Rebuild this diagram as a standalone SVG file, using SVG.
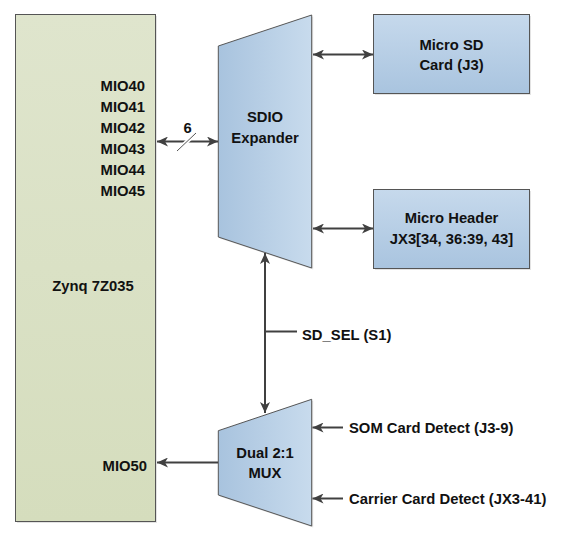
<svg xmlns="http://www.w3.org/2000/svg" width="563" height="543" viewBox="0 0 563 543">
<defs>
<linearGradient id="gZynq" x1="0" y1="0" x2="0" y2="1"><stop offset="0" stop-color="#dfe5cd"/><stop offset="1" stop-color="#d5ddbd"/></linearGradient>
<linearGradient id="gBox" x1="0" y1="0" x2="0" y2="1"><stop offset="0" stop-color="#c6d9ec"/><stop offset="1" stop-color="#a9c4df"/></linearGradient>
<linearGradient id="gTrap" x1="0" y1="0" x2="1" y2="0"><stop offset="0" stop-color="#a8c3de"/><stop offset="1" stop-color="#c8dbed"/></linearGradient>
<marker id="ah" markerUnits="userSpaceOnUse" markerWidth="12" markerHeight="10" refX="11" refY="5" orient="auto-start-reverse" viewBox="0 0 12 10"><path d="M0,0 L11,5 L0,10 L3,5 z" fill="#404040"/></marker>
</defs>
<style>
.t{font-family:"Liberation Sans",Arial,sans-serif;font-weight:bold;font-size:14.8px;fill:#111}
.m{text-anchor:middle}
.e{text-anchor:end}
.shape{stroke:#555;stroke-width:1}
.sh{fill:#e3e3e3}
.c{stroke:#404040;stroke-width:2;fill:none}
</style>
<rect width="563" height="543" fill="#fff"/>
<g id="zynq">
<rect class="sh" x="17" y="16" width="140" height="507"/>
<rect class="shape" x="15.5" y="14.5" width="140" height="507" fill="url(#gZynq)"/>
<text class="t e" x="145" y="91">MIO40</text>
<text class="t e" x="145" y="112">MIO41</text>
<text class="t e" x="145" y="133">MIO42</text>
<text class="t e" x="145" y="154">MIO43</text>
<text class="t e" x="145" y="175">MIO44</text>
<text class="t e" x="145" y="196">MIO45</text>
<text class="t m" x="93" y="291">Zynq 7Z035</text>
<text class="t e" x="147" y="471">MIO50</text>
</g>
<g id="sdio">
<polygon class="sh" points="219.8,47.5 313.2,16.5 313.2,269.5 219.8,238.5"/>
<polygon class="shape" points="218.3,46 311.7,15 311.7,268 218.3,237" fill="url(#gTrap)"/>
<text class="t m" x="265" y="122">SDIO</text>
<text class="t m" x="265" y="143">Expander</text>
</g>
<g id="microsd">
<rect class="sh" x="375" y="16" width="156" height="79"/>
<rect class="shape" x="373.5" y="14.5" width="156" height="79" fill="url(#gBox)"/>
<text class="t m" x="451.5" y="50">Micro SD</text>
<text class="t m" x="451.5" y="70">Card (J3)</text>
</g>
<g id="header">
<rect class="sh" x="375" y="191" width="156" height="79"/>
<rect class="shape" x="373.5" y="189.5" width="156" height="79" fill="url(#gBox)"/>
<text class="t m" x="451.5" y="223">Micro Header</text>
<text class="t m" x="451.5" y="244">JX3[34, 36:39, 43]</text>
</g>
<g id="mux">
<polygon class="sh" points="219.8,432.2 313.2,400.8 313.2,527.5 219.8,496.5"/>
<polygon class="shape" points="218.3,430.7 311.7,399.3 311.7,526 218.3,495" fill="url(#gTrap)"/>
<text class="t m" x="265" y="458">Dual 2:1</text>
<text class="t m" x="265" y="478">MUX</text>
</g>
<g id="connectors">
<line class="c" x1="157" y1="141.5" x2="218" y2="141.5" marker-start="url(#ah)" marker-end="url(#ah)"/>
<line x1="177" y1="151" x2="196" y2="133" stroke="#ffffff" stroke-width="4"/>
<line x1="177" y1="151" x2="196" y2="133" stroke="#555" stroke-width="1"/>
<text class="t m" x="187.5" y="133">6</text>
<line class="c" x1="313" y1="54.5" x2="373" y2="54.5" marker-start="url(#ah)" marker-end="url(#ah)"/>
<line class="c" x1="313" y1="228.5" x2="373" y2="228.5" marker-start="url(#ah)" marker-end="url(#ah)"/>
<line class="c" x1="265" y1="253" x2="265" y2="413" marker-start="url(#ah)" marker-end="url(#ah)"/>
<line class="c" x1="265" y1="331.5" x2="297" y2="331.5"/>
<text class="t" x="302" y="340">SD_SEL (S1)</text>
<line class="c" x1="218" y1="462.5" x2="157" y2="462.5" marker-end="url(#ah)"/>
<line class="c" x1="343" y1="427.5" x2="312.5" y2="427.5" marker-end="url(#ah)"/>
<line class="c" x1="343" y1="498.5" x2="312.5" y2="498.5" marker-end="url(#ah)"/>
<text class="t" x="349" y="433">SOM Card Detect (J3-9)</text>
<text class="t" x="349" y="504">Carrier Card Detect (JX3-41)</text>
</g>
</svg>
